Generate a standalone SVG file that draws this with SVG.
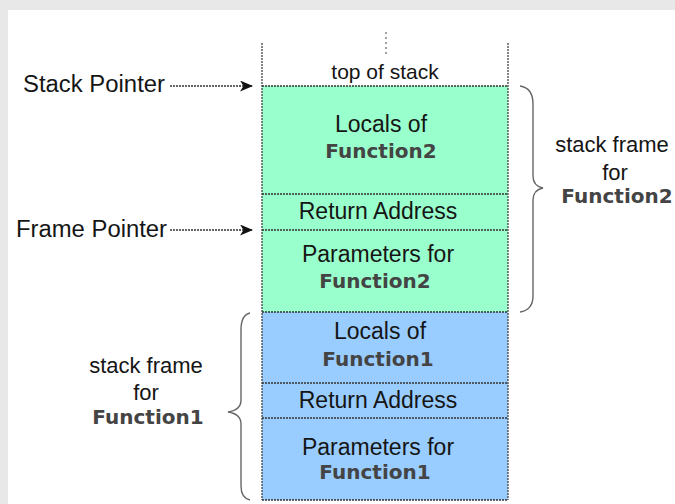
<svg xmlns="http://www.w3.org/2000/svg" width="675" height="504" viewBox="0 0 675 504">
<style>
.t{font-family:"Liberation Sans",Arial,sans-serif;font-size:23px;fill:#151515;text-anchor:middle}
.f{font-family:"DejaVu Sans",Verdana,sans-serif;font-weight:bold;font-size:20px;fill:#444;text-anchor:middle}
.lbl{font-family:"Liberation Sans",Arial,sans-serif;font-size:23px;fill:#151515}
.sep{stroke:#333;stroke-width:1.4;stroke-dasharray:2 1}
.side{stroke:#444;stroke-width:1.3;stroke-dasharray:2 1}
.brace{fill:none;stroke:#666;stroke-width:1.4}
.arr{stroke:#333;stroke-width:1.3;stroke-dasharray:2 1}
</style>
<defs>
<marker id="ah" markerWidth="13" markerHeight="11" refX="12" refY="5.5" orient="auto" markerUnits="userSpaceOnUse">
<path d="M0,0 L13,5.5 L0,11 L3.5,5.5 Z" fill="#111"/>
</marker>
</defs>
<rect x="0" y="0" width="675" height="504" fill="#e8e8e8"/>
<rect x="8" y="10" width="667" height="494" fill="#ffffff"/>

<g id="top">
<line x1="386" y1="32" x2="386" y2="54" stroke="#666" stroke-width="1.2" stroke-dasharray="2 3"/>
<text class="t" x="385" y="79" style="font-size:21px">top of stack</text>
</g>

<g id="f2-locals">
<rect x="262" y="86" width="246" height="108" fill="#99ffcc"/>
<text class="t" x="381" y="132">Locals of</text>
<text class="f" x="381" y="158">Function2</text>
</g>
<g id="f2-ret">
<rect x="262" y="194" width="246" height="36" fill="#99ffcc"/>
<text class="t" x="378" y="219">Return Address</text>
</g>
<g id="f2-params">
<rect x="262" y="230" width="246" height="82" fill="#99ffcc"/>
<text class="t" x="378" y="262">Parameters for</text>
<text class="f" x="375" y="288">Function2</text>
</g>
<g id="f1-locals">
<rect x="262" y="312" width="246" height="71" fill="#99ccff"/>
<text class="t" x="380" y="339">Locals of</text>
<text class="f" x="378" y="366">Function1</text>
</g>
<g id="f1-ret">
<rect x="262" y="383" width="246" height="35" fill="#99ccff"/>
<text class="t" x="378" y="408">Return Address</text>
</g>
<g id="f1-params">
<rect x="262" y="418" width="246" height="82" fill="#99ccff"/>
<text class="t" x="378" y="455">Parameters for</text>
<text class="f" x="375" y="479">Function1</text>
</g>

<g id="column">
<line class="side" x1="262" y1="43" x2="262" y2="500"/>
<line class="side" x1="508" y1="43" x2="508" y2="500"/>
<line class="sep" x1="262" y1="86" x2="508" y2="86"/>
<line class="sep" x1="262" y1="194" x2="508" y2="194"/>
<line class="sep" x1="262" y1="230" x2="508" y2="230"/>
<line class="sep" x1="262" y1="312" x2="508" y2="312"/>
<line class="sep" x1="262" y1="383" x2="508" y2="383"/>
<line class="sep" x1="262" y1="418" x2="508" y2="418"/>
<line class="sep" x1="262" y1="500" x2="508" y2="500"/>
</g>

<g id="stack-pointer">
<text class="lbl" x="23" y="92" textLength="142" lengthAdjust="spacingAndGlyphs">Stack Pointer</text>
</g>
<g id="frame-pointer">
<text class="lbl" x="16" y="237" textLength="151" lengthAdjust="spacingAndGlyphs">Frame Pointer</text>
</g>

<g id="frame2-label">
<path class="brace" d="M520,86 Q533,88 533,104 L533,176 Q533,186 543,188 Q533,190 533,200 L533,296 Q533,310 520,312"/>
<text class="t" x="612" y="152" style="font-size:22px">stack frame</text>
<text class="t" x="615" y="180" style="font-size:22px">for</text>
<text class="f" x="617" y="203">Function2</text>
</g>
<g id="frame1-label">
<path class="brace" d="M250,313 Q241,315 241,330 L241,400 Q241,410 228,412 Q241,414 241,424 L241,486 Q241,498 250,500"/>
<text class="t" x="146" y="373" style="font-size:22px">stack frame</text>
<text class="t" x="146" y="400" style="font-size:22px">for</text>
<text class="f" x="148" y="424">Function1</text>
</g>

<g id="connectors">
<line class="arr" x1="170" y1="86" x2="252" y2="86" marker-end="url(#ah)"/>
<line class="arr" x1="170" y1="230" x2="252" y2="230" marker-end="url(#ah)"/>
</g>
</svg>
